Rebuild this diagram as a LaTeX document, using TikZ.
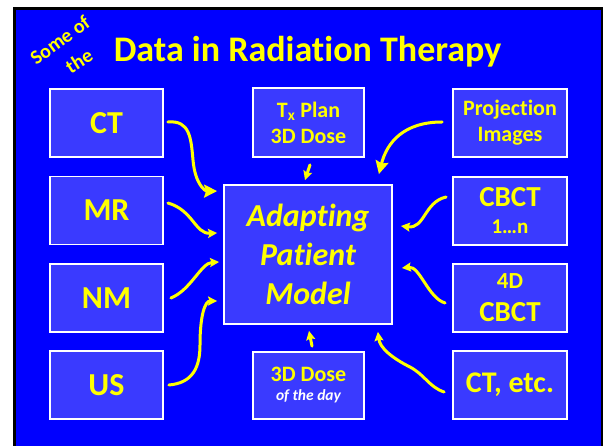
\documentclass[tikz,border=0pt]{standalone}
\usepackage{fontspec}
\setmainfont{Carlito}[Ligatures=NoCommon]
\usetikzlibrary{arrows.meta,calc}
\definecolor{slide}{RGB}{0,0,255}
\definecolor{boxfill}{RGB}{58,58,255}
\definecolor{ink}{RGB}{255,255,0}

\begin{document}
\begin{tikzpicture}[x=1pt,y=-1pt,
  panel/.style={draw=white, line width=1.8pt, fill=boxfill, text=ink,
    font=\bfseries, align=center, inner sep=0pt},
  src/.style={panel, minimum width=113pt, minimum height=68pt},
  flow/.style={draw=ink, line width=3pt, line cap=round},
  bigtip/.style={flow, -{Stealth[length=13pt,width=13pt,inset=2pt]}},
  smalltip/.style={flow, -{Stealth[length=9pt,width=9pt,inset=1.5pt]}},
  big/.style={font=\bfseries\fontsize{32}{38}\selectfont},
  mid/.style={font=\bfseries\fontsize{22}{26}\selectfont},
  aside/.style={text=ink, font=\bfseries\fontsize{20}{22}\selectfont, inner sep=0pt}]

\useasboundingbox (0,0) rectangle (603,446);
\fill[white] (0,0) rectangle (603,446);
\draw[line width=3pt, fill=slide] (14.5,8.5) rectangle (602,452);

% heading
\node[text=ink, font=\bfseries\fontsize{36}{40}\selectfont, anchor=base, inner sep=0pt]
  (title) at (307.5,62) {Data in Radiation Therapy};
\node[aside, rotate=36] (some) at (60,40) {Some of};
\node[aside, rotate=32] (the) at (79,61) {the};

% imaging sources, left column
\node[src, big] (ct) at (106.5,123) {CT};
\node[src, big] (mr) at (106.5,210.5) {MR};
\node[src, big] (nm) at (106.5,298) {NM};
\node[src, big] (us) at (106.5,385) {US};

% right column
\node[src, minimum width=114pt, mid] (proj) at (510,123) {Projection\\Images};
\node[src, minimum width=114pt, font=\bfseries\fontsize{29}{27}\selectfont] (cbct) at (510,211)
  {CBCT\\{\fontsize{21}{21}\selectfont 1…n}};
\node[src, minimum width=114pt, font=\bfseries\fontsize{29}{33}\selectfont] (cbct4d) at (510,298)
  {{\fontsize{23}{23}\selectfont 4D}\\CBCT};
\node[src, minimum width=114pt, font=\bfseries\fontsize{30}{36}\selectfont] (ctetc) at (510,385) {CT, etc.};

% middle column
\node[panel, minimum width=111pt, minimum height=69pt, mid] (plan) at (308.5,122.5)
  {T\textsubscript{x} Plan\\3D Dose};
\node[panel, minimum width=168pt, minimum height=139pt,
  font=\bfseries\itshape\fontsize{32}{39}\selectfont] (model) at (308,254.5)
  {Adapting\\Patient\\Model};
\node[panel, minimum width=111pt, minimum height=67pt, font=\bfseries\fontsize{22}{21}\selectfont] (dose) at (308.5,385.5)
  {\raisebox{-2pt}{3D Dose}\\{\color{white}\itshape\fontsize{15.5}{15.5}\selectfont of the day}};

% data flowing into the patient model
\draw[bigtip] ($(ct.east)+(4,-1)$) .. controls +(22,-2) and +(-2,-22) .. (193,160)
  .. controls +(2,24) and +(-12,0) .. ($(model.north west)+(-6,7)$);
\draw[smalltip] ($(mr.east)+(4,-7.5)$) .. controls +(25,7) and +(-22,1) .. ($(model.west)+(-6,-21.5)$);
\draw[smalltip] ($(nm.east)+(7,0)$) .. controls +(20,-8) and +(-18,1) .. ($(model.west)+(-4,7.5)$);
\draw[smalltip] ($(us.east)+(5,0)$) .. controls +(24,-2) and +(0,22) .. (200,345)
  .. controls +(0,-30) and +(-12,0) .. ($(model.west)+(-6,46.5)$);
\draw[smalltip] ($(plan.south)+(1.5,7)$) -- ($(model.north)+(-3,-4)$);
\draw[bigtip] ($(proj.west)+(-10,-1)$) .. controls +(-38,0) and +(8,-32) .. ($(model.north east)+(-14,-10)$);
\draw[smalltip] ($(cbct.west)+(-6,-14)$) .. controls +(-22,5) and +(24,3) .. ($(model.east)+(8,-28.5)$);
\draw[smalltip] ($(cbct4d.west)+(-7,5)$) .. controls +(-17,-5) and +(18,-2) .. ($(model.east)+(9,13.5)$);
\draw[smalltip] ($(ctetc.west)+(-8,7)$) .. controls +(-15,-5) and +(15,8) .. (410,367)
  .. controls +(-18,-9) and +(2,16) .. ($(model.south east)+(-15,7)$);
\draw[smalltip] ($(dose.north)+(3.5,-5)$) -- ($(model.south)+(1,6)$);
\end{tikzpicture}
\end{document}
